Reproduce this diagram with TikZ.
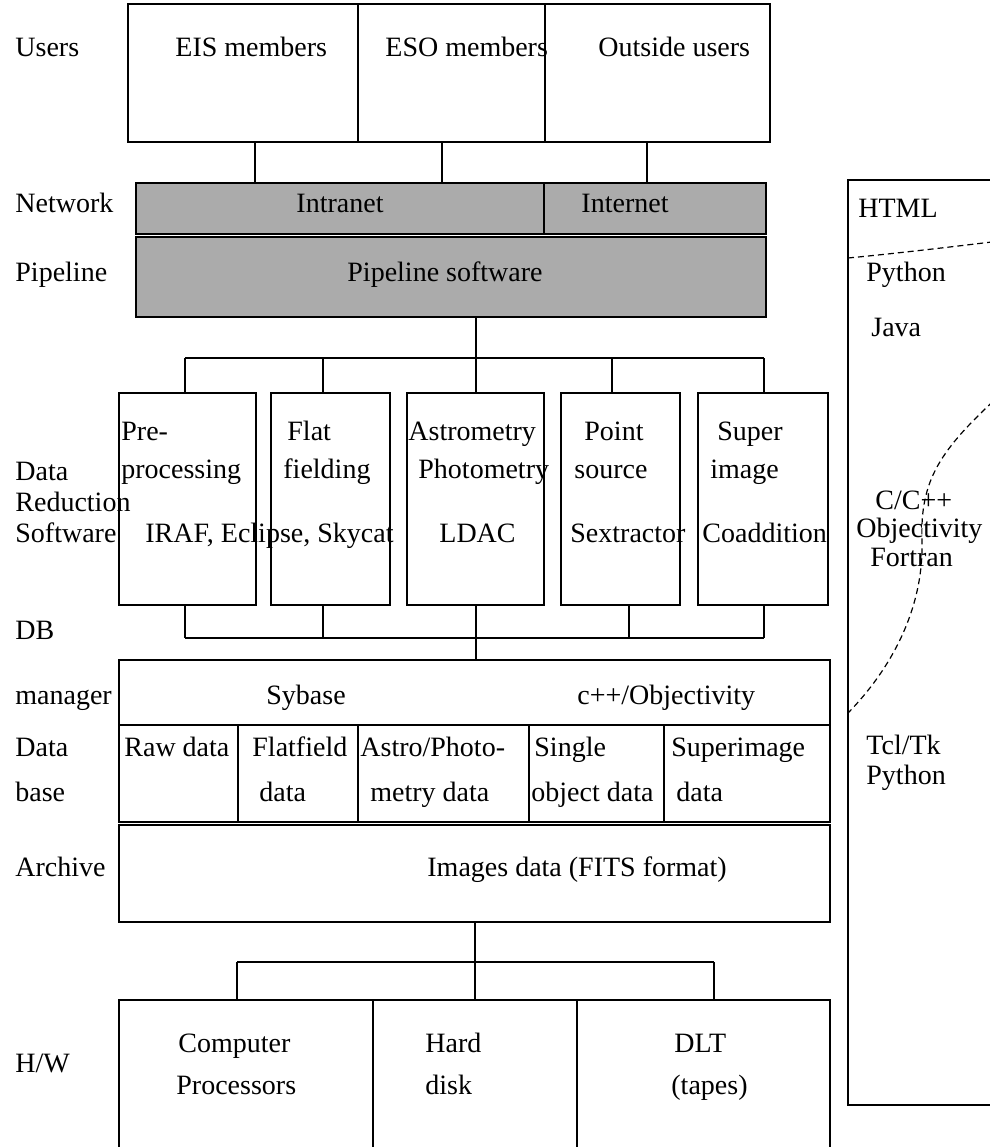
\documentclass[tikz,border=0pt]{standalone}
\usepackage{fontspec}
\setmainfont{Liberation Serif}
\usetikzlibrary{fit}
\begin{document}
\begin{tikzpicture}[x=0.5pt,y=-0.5pt,
  box/.style={draw, line width=0.7pt, inner sep=0pt},
  shade/.style={fill=black!33},
  link/.style={line width=1pt},
  lbl/.style={anchor=west, inner sep=0pt, font=\fontsize{14}{16}\selectfont, text height=0.68em, text depth=0.2em},
  ctr/.style={anchor=center, inner sep=0pt, font=\fontsize{14}{16}\selectfont, text height=0.68em, text depth=0.2em},
  dashline/.style={dashed, dash pattern=on 3pt off 2pt, line width=0.6pt}]
\clip (0,0) rectangle (990,1147);
\fill[white] (0,0) rectangle (990,1147);

% ---------- layer labels ----------
\node[lbl] (lusers) at (15,52) {Users};
\node[lbl] (lnet) at (15,208) {Network};
\node[lbl] (lpipe) at (15,277) {Pipeline};
\node[lbl] (ldata1) at (15,476) {Data};
\node[lbl] (lred) at (15,507) {Reduction};
\node[lbl] (lsoft) at (15,538) {Software};
\node[lbl] (ldb) at (15,635) {DB};
\node[lbl] (lman) at (15,700) {manager};
\node[lbl] (ldata2) at (15,752) {Data};
\node[lbl] (lbase) at (15,797) {base};
\node[lbl] (larch) at (15,872) {Archive};
\node[lbl] (lhw) at (15,1068) {H/W};

% ---------- users ----------
\node[box, fit={(128,4) (358,142)}] (eis) {};
\node[box, fit={(358,4) (545,142)}] (eso) {};
\node[box, fit={(545,4) (770,142)}] (outside) {};
\node[lbl] (teis) at (175,52) {EIS members};
\node[lbl] (teso) at (385,52) {ESO members};
\node[lbl] (tout) at (598,52) {Outside users};

% ---------- network & pipeline ----------
\node[box, shade, fit={(136,183) (544,234)}] (intranet) {};
\node[box, shade, fit={(544,183) (766,234)}] (internet) {};
\node[ctr] (tintra) at (340,208) {Intranet};
\node[ctr] (tinter) at (625,208) {Internet};
\node[box, shade, fit={(136,237) (766,317)}] (pipe) {};
\node[ctr] (tpipe) at (445,277) {Pipeline software};

\coordinate (u1) at (255,0);
\coordinate (u2) at (442,0);
\coordinate (u3) at (647,0);
\draw[link] (eis.south -| u1) -- (intranet.north -| u1);
\draw[link] (eso.south -| u2) -- (intranet.north -| u2);
\draw[link] (outside.south -| u3) -- (internet.north -| u3);

% ---------- data reduction ----------
\node[box, fit={(119,393) (256,605)}] (pre) {};
\node[box, fit={(271,393) (390,605)}] (flat) {};
\node[box, fit={(407,393) (544,605)}] (astro) {};
\node[box, fit={(561,393) (680,605)}] (point) {};
\node[box, fit={(698,393) (828,605)}] (super) {};

\coordinate (d1) at (185,358);
\coordinate (d2) at (323,358);
\coordinate (d3) at (476,358);
\coordinate (d4) at (612,358);
\coordinate (d5) at (764,358);
\draw[link] (pipe.south -| d3) -- (d3);
\draw[link] (d1) -- (d5);
\draw[link] (d1) -- (pre.north -| d1);
\draw[link] (d2) -- (flat.north -| d2);
\draw[link] (d3) -- (astro.north -| d3);
\draw[link] (d4) -- (point.north -| d4);
\draw[link] (d5) -- (super.north -| d5);

\node[lbl] (tpre1) at (121,436) {Pre-};
\node[lbl] (tpre2) at (121,474) {processing};
\node[lbl] (tpre3) at (145,538) {IRAF, Eclipse, Skycat};
\node[lbl] (tflat1) at (287,436) {Flat};
\node[lbl] (tflat2) at (283,474) {fielding};
\node[lbl] (tast1) at (408,436) {Astrometry};
\node[lbl] (tast2) at (418,474) {Photometry};
\node[lbl] (tast3) at (439,538) {LDAC};
\node[lbl] (tpt1) at (584,436) {Point};
\node[lbl] (tpt2) at (574,474) {source};
\node[lbl] (tpt3) at (570,538) {Sextractor};
\node[lbl] (tsup1) at (717,436) {Super};
\node[lbl] (tsup2) at (710,474) {image};
\node[lbl] (tsup3) at (702,538) {Coaddition};

% ---------- DB manager & data base ----------
\node[box, fit={(119,660) (830,725)}] (dbm) {};
\node[lbl] (tsyb) at (266,700) {Sybase};
\node[lbl] (tobj) at (577,700) {c++/Objectivity};

\coordinate (e1) at (185,638);
\coordinate (e2) at (323,638);
\coordinate (e3) at (476,638);
\coordinate (e4) at (629,638);
\coordinate (e5) at (764,638);
\draw[link] (pre.south -| e1) -- (e1);
\draw[link] (flat.south -| e2) -- (e2);
\draw[link] (astro.south -| e3) -- (e3);
\draw[link] (point.south -| e4) -- (e4);
\draw[link] (super.south -| e5) -- (e5);
\draw[link] (e1) -- (e5);
\draw[link] (e3) -- (dbm.north -| e3);

\node[box, fit={(119,725) (238,822)}] (raw) {};
\node[box, fit={(238,725) (358,822)}] (flatd) {};
\node[box, fit={(358,725) (529,822)}] (astrod) {};
\node[box, fit={(529,725) (664,822)}] (single) {};
\node[box, fit={(664,725) (830,822)}] (superd) {};
\node[lbl] (traw) at (124,752) {Raw data};
\node[lbl] (tfd1) at (252,752) {Flatfield};
\node[lbl] (tfd2) at (259,797) {data};
\node[lbl] (tad1) at (360,752) {Astro/Photo-};
\node[lbl] (tad2) at (370,797) {metry data};
\node[lbl] (tsd1) at (534,752) {Single};
\node[lbl] (tsd2) at (531,797) {object data};
\node[lbl] (tsu1) at (671,752) {Superimage};
\node[lbl] (tsu2) at (676,797) {data};

% ---------- archive ----------
\node[box, fit={(119,825) (830,922)}] (arch) {};
\node[lbl] (tarch) at (427,872) {Images data (FITS format)};

% ---------- hardware ----------
\node[box, fit={(119,1000) (373,1170)}] (cpu) {};
\node[box, fit={(373,1000) (577,1170)}] (disk) {};
\node[box, fit={(577,1000) (830,1170)}] (dlt) {};
\coordinate (f1) at (237,962);
\coordinate (f2) at (475,962);
\coordinate (f3) at (714,962);
\draw[link] (arch.south -| f2) -- (f2);
\draw[link] (f1) -- (f3);
\draw[link] (f1) -- (cpu.north -| f1);
\draw[link] (f2) -- (disk.north -| f2);
\draw[link] (f3) -- (dlt.north -| f3);
\node[lbl] (tcpu1) at (178,1048) {Computer};
\node[lbl] (tcpu2) at (176,1090) {Processors};
\node[lbl] (thd1) at (425,1048) {Hard};
\node[lbl] (thd2) at (425,1090) {disk};
\node[lbl] (tdlt1) at (674,1048) {DLT};
\node[lbl] (tdlt2) at (671,1090) {(tapes)};

% ---------- languages panel ----------
\node[box, fit={(848,180) (1010,1105)}] (lang) {};
\coordinate (h1) at (848,258);
\coordinate (h2) at (1000,241);
\draw[dashline] (h1) .. controls (900,253) and (950,247) .. (h2);
\coordinate (k1) at (1000,395);
\coordinate (k2) at (922,540);
\coordinate (k3) at (848,713);
\draw[dashline] (k1) .. controls (940,450) and (920,480) .. (k2)
  .. controls (924,610) and (890,670) .. (k3);
\node[lbl] (thtml) at (858,213) {HTML};
\node[lbl] (tpy1) at (866,277) {Python};
\node[lbl] (tjava) at (871,332) {Java};
\node[lbl] (tc) at (875,505) {C/C++};
\node[lbl] (tobjy) at (856,533) {Objectivity};
\node[lbl] (tfor) at (870,562) {Fortran};
\node[lbl] (ttcl) at (866,750) {Tcl/Tk};
\node[lbl] (tpy2) at (866,780) {Python};
\end{tikzpicture}
\end{document}
